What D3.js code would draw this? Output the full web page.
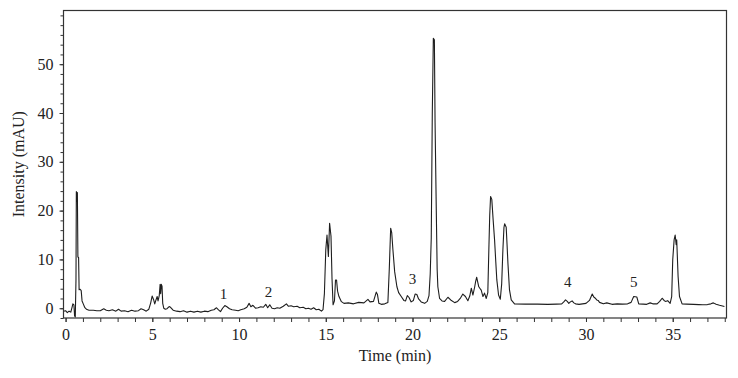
<!DOCTYPE html>
<html>
<head>
<meta charset="utf-8">
<script src="https://cdn.jsdelivr.net/npm/d3@7"></script>
<style>
    body { margin: 0; background: #fff; }
    #wrapper text { font-family: "Liberation Serif", "Times New Roman", serif; fill: #222; }
</style>
</head>
<body>
<div id="wrapper"></div>
<script>
// chromatogram trace (time in min, intensity in mAU)
const times = [
    -0.12, 0.0, 0.1, 0.2, 0.3, 0.38, 0.42, 0.48, 0.52, 0.56, 0.6, 0.62, 0.66, 0.68, 0.71, 0.75, 0.78, 0.84, 0.9, 0.95,
    1.02, 1.1, 1.2, 1.35, 1.6, 1.8, 2.0, 2.2, 2.35, 2.5, 2.7, 2.9, 3.05, 3.2, 3.4, 3.6, 3.8, 4.0, 4.2, 4.35,
    4.5, 4.65, 4.8, 4.9, 4.99, 5.07, 5.14, 5.22, 5.28, 5.33, 5.4, 5.45, 5.48, 5.52, 5.56, 5.6, 5.66, 5.75, 5.85, 5.97,
    6.05, 6.2, 6.4, 6.6, 6.8, 7.0, 7.2, 7.4, 7.6, 7.8, 8.0, 8.2, 8.4, 8.55, 8.7, 8.8, 8.93, 9.05, 9.18, 9.3,
    9.45, 9.6, 9.8, 9.95, 10.1, 10.3, 10.45, 10.58, 10.68, 10.8, 10.95, 11.1, 11.25, 11.4, 11.54, 11.65, 11.77, 11.9, 12.05, 12.2,
    12.35, 12.55, 12.73, 12.85, 13.0, 13.15, 13.35, 13.5, 13.7, 13.85, 14.0, 14.15, 14.3, 14.45, 14.6, 14.75, 14.84, 14.92, 15.0, 15.07,
    15.15, 15.22, 15.3, 15.36, 15.42, 15.5, 15.56, 15.62, 15.68, 15.76, 15.9, 16.05, 16.3, 16.6, 16.9, 17.2, 17.43, 17.55, 17.75, 17.91,
    17.98, 18.06, 18.2, 18.4, 18.58, 18.66, 18.74, 18.8, 18.87, 18.97, 19.1, 19.2, 19.35, 19.5, 19.6, 19.7, 19.8, 19.92, 20.05, 20.15,
    20.25, 20.35, 20.5, 20.7, 20.85, 20.95, 21.02, 21.08, 21.14, 21.2, 21.26, 21.3, 21.37, 21.42, 21.46, 21.56, 21.7, 21.85, 22.04, 22.2,
    22.43, 22.6, 22.75, 22.9, 23.05, 23.19, 23.3, 23.39, 23.48, 23.58, 23.64, 23.7, 23.75, 23.82, 23.9, 23.96, 24.06, 24.15, 24.25, 24.34,
    24.4, 24.45, 24.5, 24.57, 24.65, 24.73, 24.8, 24.86, 24.96, 25.06, 25.14, 25.21, 25.27, 25.31, 25.4, 25.45, 25.5, 25.59, 25.69, 25.88,
    26.5, 27.2, 27.8, 28.3, 28.6, 28.72, 28.82, 28.92, 29.01, 29.1, 29.2, 29.3, 29.4, 29.6, 29.8, 30.0, 30.2, 30.36, 30.45, 30.52,
    30.62, 30.7, 30.78, 31.0, 31.2, 31.5, 31.8, 32.1, 32.4, 32.6, 32.75, 32.93, 33.04, 33.3, 33.5, 33.7, 33.85, 34.1, 34.25, 34.39,
    34.5, 34.58, 34.71, 34.85, 34.94, 35.0, 35.08, 35.14, 35.2, 35.23, 35.31, 35.39, 35.54, 35.8, 36.2, 36.5, 36.73, 37.0, 37.2, 37.34,
    37.5, 37.7, 37.98,
]
const intensity = [
    -0.6, -0.5, -0.9, -0.6, -0.8, 0.3, 0.9, 0.7, -1.6, -1.8, 6, 23.9, 22, 23.7, 10.5, 10.4, 3.8, 3.9, 3.6, 1.5,
    0.9, 0.2, -0.2, -0.4, -0.4, -0.5, -0.5, -0.1, -0.4, -0.5, -0.3, -0.6, -0.2, -0.6, -0.5, -0.7, -0.4, -0.6, -0.5, -0.1,
    -0.3, -0.6, -0.2, 1.0, 2.5, 1.8, 0.9, 1.8, 2.4, 1.5, 2.6, 4.9, 3.0, 4.9, 4.5, 1.0, 0.0, -0.2, -0.1, 0.35,
    0.2, -0.4, -0.6, -0.7, -0.5, -0.8, -0.6, -0.8, -0.6, -0.8, -0.6, -0.7, -0.4, -0.3, 0.1, -0.3, -0.7, 0.0, 0.55, 0.3,
    -0.1, -0.3, -0.4, -0.5, -0.3, -0.1, 0.2, 1.0, 0.3, 0.6, 0.0, 0.1, 0.3, 0.2, 0.8, 0.1, 0.7, 0.0, -0.1, 0.1,
    0.0, 0.4, 0.9, 0.4, 0.5, 0.3, 0.4, 0.1, 0.2, -0.1, 0.0, -0.2, 0.1, -0.3, -0.2, -0.6, -0.3, 3, 12, 15.0,
    10.6, 17.4, 14.8, 6, 0.7, 1.5, 5.8, 5.8, 3.5, 2.4, 1.35, 1.0, 1.1, 0.9, 1.2, 1.1, 1.8, 1.3, 1.4, 3.3,
    2.8, 1.0, 0.8, 0.9, 1.2, 8, 16.4, 15.5, 12, 7.5, 4.4, 3.2, 2.4, 1.6, 1.5, 2.6, 2.2, 1.3, 1.6, 2.9,
    2.8, 1.9, 1.3, 1.0, 1.4, 2.6, 7, 14.4, 40, 55.3, 55, 38, 20, 8, 4.4, 2.0, 1.5, 1.4, 2.25, 1.7,
    1.15, 1.4, 2.0, 2.9, 2.4, 1.55, 2.5, 4.1, 2.7, 4.3, 5.5, 6.35, 5.5, 4.4, 4.0, 3.7, 2.4, 3.1, 2.0, 3.2,
    12, 19, 22.9, 22.3, 18, 14, 9.5, 5.8, 2.7, 1.85, 5, 12, 16.5, 17.3, 16.6, 13, 9.2, 3.75, 1.7, 0.9,
    0.85, 0.85, 0.8, 0.85, 0.9, 1.3, 1.7, 1.4, 1.0, 1.3, 1.5, 1.1, 0.9, 0.8, 0.9, 1.0, 1.6, 2.9, 2.3, 2.1,
    1.7, 1.6, 1.2, 0.9, 1.1, 0.8, 0.9, 0.85, 0.9, 1.2, 2.4, 2.3, 0.9, 0.85, 0.8, 1.1, 0.9, 0.9, 1.4, 2.05,
    1.6, 1.4, 1.55, 1.0, 2.4, 9.9, 14, 15.0, 13, 14, 6.5, 2.4, 0.9, 0.85, 0.8, 0.75, 0.7, 0.75, 0.9, 1.1,
    0.8, 0.6, 0.35,
]

// numbered peaks
const peakNames = ['1', '2', '3', '4', '5']
const peakTimes = [9.1, 11.7, 20.0, 28.95, 32.75]
const peakLabelLevels = [1.9, 2.3, 5.0, 4.4, 4.4]

// axis ticks
const xTickLabels = [0, 5, 10, 15, 20, 25, 30, 35]
const xMinorTicks = d3.range(0, 39, 1)
const yTickLabels = [0, 10, 20, 30, 40, 50]
const yMinorTicks = d3.range(-2, 61, 2)

const dataset = times.map((t, i) => ({ time: t, value: intensity[i] }))

// 1. Chart dimensions
let dimensions = {
    width: 738,
    height: 378,
    margin: {
        top: 10.5,
        right: 11.5,
        bottom: 60,
        left: 63.5,
    },
}
dimensions.boundedWidth =
    dimensions.width - dimensions.margin.left - dimensions.margin.right
dimensions.boundedHeight =
    dimensions.height - dimensions.margin.top - dimensions.margin.bottom

// 2. Draw canvas
const wrapper = d3
    .select('#wrapper')
    .append('svg')
    .attr('width', dimensions.width)
    .attr('height', dimensions.height)

const bounds = wrapper
    .append('g')
    .attr('transform', `translate(${dimensions.margin.left}, ${dimensions.margin.top})`)

// 3. Scales
const xScale = d3
    .scaleLinear()
    .domain([-0.12, 38.1])
    .range([0, dimensions.boundedWidth])

const yScale = d3
    .scaleLinear()
    .domain([-2, 61])
    .range([dimensions.boundedHeight, 0])

// 4. Trace
const lineGenerator = d3
    .line()
    .x(d => xScale(d.time))
    .y(d => yScale(d.value))

bounds
    .append('path')
    .datum(dataset)
    .attr('d', lineGenerator)
    .attr('fill', 'none')
    .attr('stroke', '#1e1e1e')
    .attr('stroke-width', 1.1)
    .attr('stroke-linejoin', 'round')

// peak numbers
bounds
    .selectAll('.peak-label')
    .data(peakNames)
    .join('text')
    .attr('class', 'peak-label')
    .attr('x', (d, i) => xScale(peakTimes[i]))
    .attr('y', (d, i) => yScale(peakLabelLevels[i]))
    .attr('text-anchor', 'middle')
    .style('font-size', '15px')
    .text(d => d)

// 5. Peripherals
const axisColor = '#333'

const xMinorAxis = bounds
    .append('g')
    .attr('transform', `translate(0, ${dimensions.boundedHeight})`)
    .call(d3.axisBottom(xScale).tickValues(xMinorTicks).tickSize(4).tickFormat(''))
const xAxis = bounds
    .append('g')
    .attr('transform', `translate(0, ${dimensions.boundedHeight})`)
    .call(d3.axisBottom(xScale).tickValues(xTickLabels).tickSize(4).tickPadding(7))

const yMinorAxis = bounds
    .append('g')
    .call(d3.axisLeft(yScale).tickValues(yMinorTicks).tickSize(3).tickFormat(''))
const yAxis = bounds
    .append('g')
    .call(d3.axisLeft(yScale).tickValues(yTickLabels).tickSize(4).tickPadding(6))

;[xMinorAxis, xAxis, yMinorAxis, yAxis].forEach(axis => {
    axis.select('.domain').remove()
    axis.selectAll('line').attr('stroke', axisColor)
    axis.selectAll('text').style('font-size', '16px').attr('fill', '#222')
})

// frame around the plot
bounds
    .append('rect')
    .attr('x', 0)
    .attr('y', 0)
    .attr('width', dimensions.boundedWidth)
    .attr('height', dimensions.boundedHeight)
    .attr('fill', 'none')
    .attr('stroke', axisColor)
    .attr('stroke-width', 1.2)

bounds
    .append('text')
    .attr('x', dimensions.boundedWidth / 2)
    .attr('y', dimensions.boundedHeight + 43)
    .attr('text-anchor', 'middle')
    .style('font-size', '16px')
    .text('Time (min)')

bounds
    .append('text')
    .attr('transform', `translate(${24 - dimensions.margin.left}, ${dimensions.boundedHeight / 2}) rotate(-90)`)
    .attr('text-anchor', 'middle')
    .style('font-size', '16px')
    .text('Intensity (mAU)')
</script>
</body>
</html>
